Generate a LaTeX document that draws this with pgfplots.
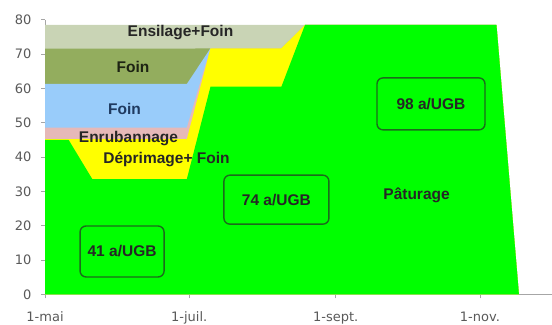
\documentclass[border=0pt]{standalone}
\usepackage{pgfplots}
\pgfplotsset{compat=1.18}
\usepackage{fontspec}
\setmainfont{Liberation Sans}
\newfontfamily\tickfont{DejaVu Sans}

\definecolor{paturage}{HTML}{00FF00}
\definecolor{deprimage}{HTML}{FFFF00}
\definecolor{enrub}{HTML}{E6B9B8}
\definecolor{foinbleu}{HTML}{99CCFA}
\definecolor{foinolive}{HTML}{93AD5E}
\definecolor{ensilage}{HTML}{C9D4B5}
\definecolor{axisgray}{HTML}{A6A6A6}
\definecolor{tickgray}{HTML}{595959}
\definecolor{boxgreen}{HTML}{1C6B1C}
\definecolor{navy}{HTML}{1F3A60}

% cumulative tops of the stacked areas (x = days after 1 May)
\pgfplotstableread{
day   pat   dep   enr   bleu  olive ens
0     45    45.2  48.6  61.3  71.6  78.5
10    45    45.2  48.6  61.3  71.6  78.5
20    33.6  45.2  48.6  61.3  71.6  78.5
60    33.6  45.2  48.6  61.3  71.6  78.5
70    60.5  71.7  71.7  71.7  71.7  78.5
100   60.5  71.7  71.7  71.7  71.7  78.5
110   78.5  78.5  78.5  78.5  78.5  78.5
191   78.5  78.5  78.5  78.5  78.5  78.5
200.5 0     0     0     0     0     0
}\stack

\begin{document}
\begin{tikzpicture}[
  boxlab/.style={draw=boxgreen, line width=1.4pt, rounded corners=6pt,
    font=\bfseries\fontsize{15.5}{18}\selectfont, text=black!85},
  lab/.style={anchor=base, font=\bfseries\fontsize{15.5}{18}\selectfont, text=black!85},
]
\begin{axis}[
  scale only axis,
  width=507pt,
  height=274.6pt,
  xmin=0, xmax=214.5,
  ymin=0, ymax=80,
  axis x line=bottom,
  axis y line=left,
  axis line style={-, draw=axisgray, line width=0.8pt},
  xtick={0,61,123,184},
  xticklabels={1-mai,1-juil.,1-sept.,1-nov.},
  ytick={0,10,...,80},
  tick align=outside,
  major tick length=4pt,
  tick style={axisgray, line width=0.8pt},
  ticklabel style={font=\tickfont\fontsize{13}{15}\selectfont, text=tickgray},
  xticklabel style={yshift=-10pt},
  yticklabel style={xshift=-6pt},
  /pgf/number format/assume math mode=true,
]
\addplot[fill=ensilage, draw=none] table[x=day, y=ens] {\stack} \closedcycle;
\addplot[fill=foinolive, draw=none] table[x=day, y=olive] {\stack} \closedcycle;
\addplot[fill=foinbleu, draw=none] table[x=day, y=bleu] {\stack} \closedcycle;
\addplot[fill=enrub, draw=none] table[x=day, y=enr] {\stack} \closedcycle;
\addplot[fill=deprimage, draw=none] table[x=day, y=dep] {\stack} \closedcycle;
\addplot[fill=paturage, draw=none] table[x=day, y=pat] {\stack} \closedcycle;

\node[lab] at (axis cs:57.3,75.1) {Ensilage+Foin};
\node[lab, text={black!80!foinolive}] at (axis cs:37.2,64.6) {Foin};
\node[lab, text=navy] at (axis cs:33.6,52.5) {Foin};
\node[lab] at (axis cs:35.3,44.2) {Enrubannage};
\node[lab] at (axis cs:51.4,38.0) {Déprimage+ Foin};
\node[lab] at (axis cs:157.2,27.6) {Pâturage};

\node[boxlab, minimum width=84pt, minimum height=51pt] at (axis cs:32.6,12.5) {41 a/UGB};
\node[boxlab, minimum width=105pt, minimum height=49pt] at (axis cs:97.9,27.6) {74 a/UGB};
\node[boxlab, minimum width=108pt, minimum height=52pt] at (axis cs:163.3,55.5) {98 a/UGB};

\coordinate (bl) at (rel axis cs:-0.0888,-0.1114);
\coordinate (tr) at (rel axis cs:1,1.0721);
\end{axis}
\pgfresetboundingbox
\path[use as bounding box] (bl) rectangle (tr);
\end{tikzpicture}
\end{document}
